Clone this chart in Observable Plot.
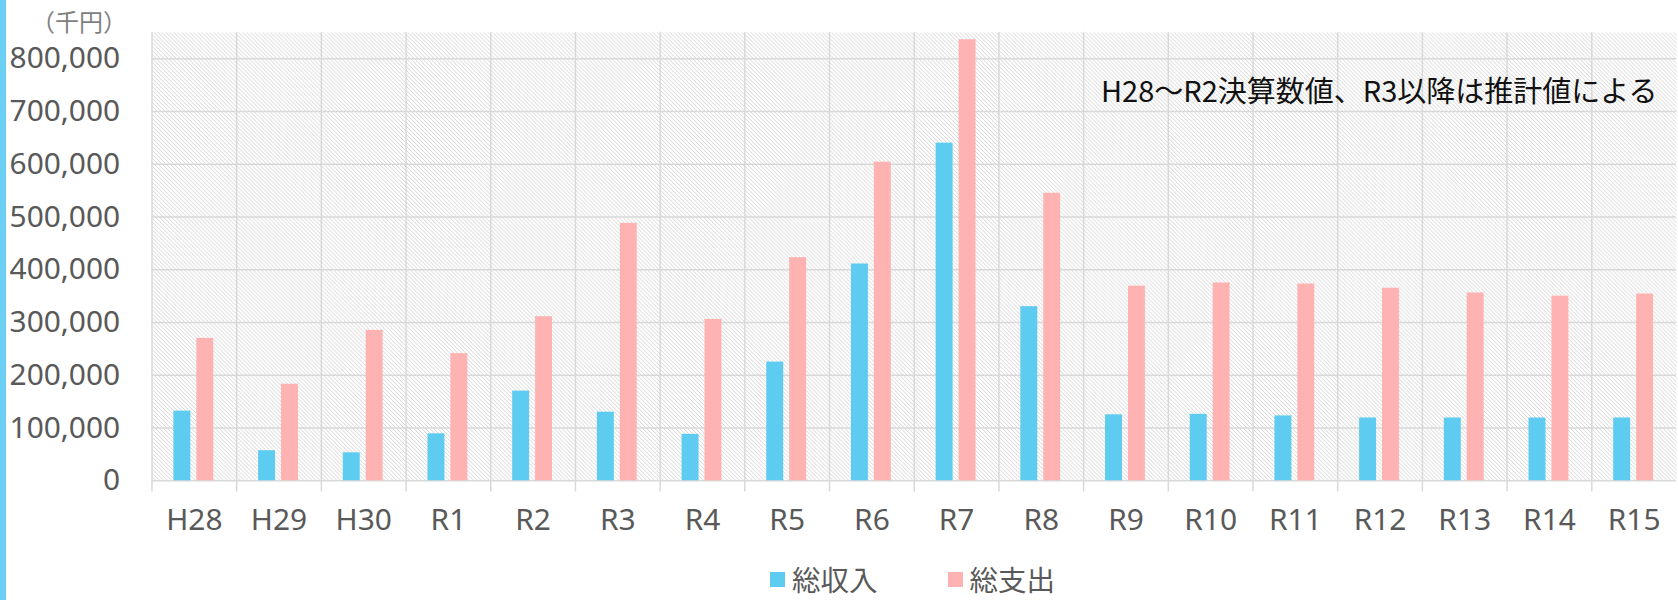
<!DOCTYPE html>
<html>
<head>
<meta charset="utf-8">
<script src="https://cdn.jsdelivr.net/npm/d3@7"></script>
<script src="https://cdn.jsdelivr.net/npm/@observablehq/plot@0.6"></script>
<style>
  html, body { margin: 0; padding: 0; background: #fff; overflow: hidden; width: 1678px; height: 600px; }
  #wrap { position: relative; width: 1678px; height: 600px; overflow: hidden; }
  #stripe { position: absolute; left: 0; top: 0; width: 6px; height: 600px; background: #6cd0f5; z-index: 2; }
  #unit { position: absolute; left: 31px; top: 3px; font-family: "Noto Sans CJK JP", sans-serif; font-size: 24px; color: #7f7f7f; z-index: 2; }
  #note { position: absolute; left: 1101px; top: 68px; font-family: "Noto Sans CJK JP", sans-serif; font-size: 29px; color: #111; z-index: 2; white-space: nowrap; }
  #chart { position: absolute; left: 0; top: 0; }
  #legend { position: absolute; left: 770px; top: 565px; display: flex; align-items: center; font-family: "Noto Sans CJK JP", sans-serif; font-size: 28.5px; color: #595959; line-height: 28px; }
  .item { display: flex; align-items: center; }
  .sw { width: 15px; height: 15px; margin-right: 7px; }
</style>
</head>
<body>
<div id="wrap">
  <div id="stripe"></div>
  <div id="chart"></div>
  <div id="unit">（千円）</div>
  <div id="note">H28～R2決算数値、R3以降は推計値による</div>
  <div id="legend"></div>
</div>
<script>
const categories = ["H28","H29","H30","R1","R2","R3","R4","R5","R6","R7","R8","R9","R10","R11","R12","R13","R14","R15"];
const seriesNames = ["総収入","総支出"];
const income  = [132000, 57000, 53000, 89000, 170000, 130000, 88000, 225000, 411000, 640000, 330000, 125000, 126000, 123000, 119000, 119000, 119000, 119000];
const expense = [270000, 183000, 285000, 241000, 311000, 488000, 306000, 423000, 604000, 836000, 545000, 369000, 375000, 373000, 365000, 356000, 350000, 354000];
const yTicks = [0, 100000, 200000, 300000, 400000, 500000, 600000, 700000, 800000];
const colors = ["#5ecbf0", "#ffb2b2"];

const data = [];
categories.forEach((c, i) => {
  data.push({year: c, series: seriesNames[0], value: income[i]});
  data.push({year: c, series: seriesNames[1], value: expense[i]});
});

const gridColor = "#d9d9d9";
const plot = Plot.plot({
  width: 1684,
  height: 545,
  marginLeft: 150,
  marginRight: 0,
  marginTop: 32,
  marginBottom: 63,
  style: {fontFamily: "'Noto Sans', sans-serif", color: "#595959", background: "transparent"},
  fx: {domain: categories, padding: 0, label: null, axis: null},
  x: {domain: seriesNames, paddingInner: 0.246, paddingOuter: 0.963, axis: null},
  y: {domain: [0, 850000], axis: null},
  color: {domain: seriesNames, range: colors},
  marks: [
    Plot.frame({fill: "url(#hatch)", stroke: null}),
    Plot.gridY(yTicks, {stroke: gridColor, strokeOpacity: 1, strokeWidth: 1.5}),
    Plot.frame({anchor: "left", stroke: gridColor, strokeOpacity: 1, strokeWidth: 1.5, insetBottom: -10}),
    Plot.barY(data, {fx: "year", x: "series", y: "value", fill: "series"}),
    Plot.axisFx({anchor: "bottom", domain: categories, tickSize: 0, tickPadding: 28, fontSize: 30, fill: "#595959", label: null}),
    Plot.axisY(yTicks, {tickSize: 0, tickPadding: 32, fontSize: 30, fill: "#595959", tickFormat: d3.format(","), label: null})
  ]
});

const svg = d3.select(plot);
const defs = svg.insert("defs", ":first-child");
const pat = defs.append("pattern").attr("id", "hatch").attr("patternUnits", "userSpaceOnUse")
  .attr("width", 4).attr("height", 4);
pat.append("rect").attr("width", 4).attr("height", 4).attr("fill", "#ffffff");
[0,1,2,3].forEach(k => pat.append("rect").attr("x", k).attr("y", k).attr("width", 1).attr("height", 1).attr("fill", "#d4d4d4"));

document.getElementById("chart").appendChild(plot);

const legend = d3.select("#legend");
seriesNames.forEach((s, i) => {
  const it = legend.append("div").attr("class", "item").style("margin-right", i === 0 ? "70px" : "0px");
  it.append("div").attr("class", "sw").style("background", colors[i]);
  it.append("span").text(s);
});
</script>
</body>
</html>
